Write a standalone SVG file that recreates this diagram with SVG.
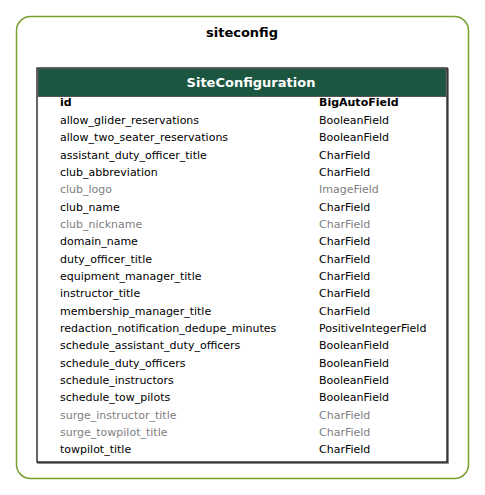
<svg xmlns="http://www.w3.org/2000/svg" width="485" height="495" viewBox="0 0 485 495">
<style>
text{font-family:"DejaVu Sans",sans-serif;font-size:11px;fill:#000}
.t{font-size:13px;font-weight:bold}
.h{font-size:13px;font-weight:bold;fill:#fff}
.b{font-weight:bold}
.g{fill:#808080}
</style>
<rect width="485" height="495" fill="#fff"/>
<g id="cluster_siteconfig">
<rect x="16.5" y="16.5" width="452" height="462" rx="14" fill="#fff" stroke="#77a02c" stroke-width="1.5"/>
<text class="t" x="242" y="37" text-anchor="middle">siteconfig</text>
</g>
<g id="SiteConfiguration">
<rect x="38" y="69" width="410" height="394" fill="none" stroke="#666" stroke-width="1.5"/>
<rect x="37" y="68" width="410" height="394" fill="#fff" stroke="#000" stroke-width="1.2"/>
<rect x="38" y="68.5" width="408" height="28" fill="#1c5640" stroke="#555" stroke-width="1"/>
<text class="h" x="251" y="87" text-anchor="middle">SiteConfiguration</text>
<text class="b" x="60" y="106">id</text><text class="b" x="319" y="106">BigAutoField</text>
<text x="60" y="124">allow_glider_reservations</text><text x="319" y="124">BooleanField</text>
<text x="60" y="141">allow_two_seater_reservations</text><text x="319" y="141">BooleanField</text>
<text x="60" y="159">assistant_duty_officer_title</text><text x="319" y="159">CharField</text>
<text x="60" y="176">club_abbreviation</text><text x="319" y="176">CharField</text>
<text class="g" x="60" y="193">club_logo</text><text class="g" x="319" y="193">ImageField</text>
<text x="60" y="211">club_name</text><text x="319" y="211">CharField</text>
<text class="g" x="60" y="228">club_nickname</text><text class="g" x="319" y="228">CharField</text>
<text x="60" y="245">domain_name</text><text x="319" y="245">CharField</text>
<text x="60" y="263">duty_officer_title</text><text x="319" y="263">CharField</text>
<text x="60" y="280">equipment_manager_title</text><text x="319" y="280">CharField</text>
<text x="60" y="297">instructor_title</text><text x="319" y="297">CharField</text>
<text x="60" y="315">membership_manager_title</text><text x="319" y="315">CharField</text>
<text x="60" y="332">redaction_notification_dedupe_minutes</text><text x="319" y="332">PositiveIntegerField</text>
<text x="60" y="349">schedule_assistant_duty_officers</text><text x="319" y="349">BooleanField</text>
<text x="60" y="367">schedule_duty_officers</text><text x="319" y="367">BooleanField</text>
<text x="60" y="384">schedule_instructors</text><text x="319" y="384">BooleanField</text>
<text x="60" y="401">schedule_tow_pilots</text><text x="319" y="401">BooleanField</text>
<text class="g" x="60" y="419">surge_instructor_title</text><text class="g" x="319" y="419">CharField</text>
<text class="g" x="60" y="436">surge_towpilot_title</text><text class="g" x="319" y="436">CharField</text>
<text x="60" y="453">towpilot_title</text><text x="319" y="453">CharField</text>
</g>
<g id="connectors"/>
</svg>
